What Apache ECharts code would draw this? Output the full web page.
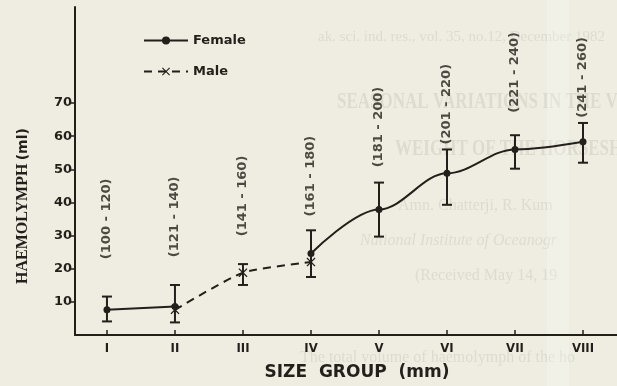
<!DOCTYPE html>
<html>
<head>
<meta charset="utf-8">
<script src="https://cdn.jsdelivr.net/npm/echarts@6/dist/echarts.min.js"></script>
<style>
  html, body { margin: 0; padding: 0; background: #efede1; }
  #chart { width: 617px; height: 386px; }
</style>
</head>
<body>
<div id="chart"></div>
<script>
// size groups (x axis) and their ranges in mm
var categories = ['I', 'II', 'III', 'IV', 'V', 'VI', 'VII', 'VIII'];
var rangeLabels = ['(100 - 120)', '(121 - 140)', '(141 - 160)', '(161 - 180)',
                   '(181 - 200)', '(201 - 220)', '(221 - 240)', '(241 - 260)'];
// value where each range label starts (bottom of the vertical text)
var rangeLabelBase = [22.9, 23.5, 29.8, 35.8, 50.6, 57.5, 67.1, 65.6];

// haemolymph (ml); null = no point for that group
var femaleValues = [7.6, 8.6, null, 24.6, 37.9, 48.8, 56.0, 58.3];
var maleValues = [null, 7.6, 18.8, 22.0, null, null, null, null];
var errLow = [4.1, 3.8, 15.1, 17.5, 29.7, 39.3, 50.2, 52.0];
var errHigh = [11.6, 15.1, 21.4, 31.6, 46.0, 56.0, 60.3, 64.0];

var yTicks = [10, 20, 30, 40, 50, 60, 70];

var ink = '#231f1b';
var xPos = categories.map(function (c, i) { return i + 1; });

function toPairs(vals) {
    return vals.map(function (v, i) { return [i + 1, v == null ? '-' : v]; });
}

// I-beam error bars
function renderErrorBar(params, api) {
    var hi = api.coord([api.value(0), api.value(2)]);
    var lo = api.coord([api.value(0), api.value(1)]);
    var cap = 5;
    var st = { stroke: ink, lineWidth: 2 };
    return {
        type: 'group',
        children: [
            { type: 'line', shape: { x1: hi[0], y1: hi[1], x2: lo[0], y2: lo[1] }, style: st },
            { type: 'line', shape: { x1: hi[0] - cap, y1: hi[1], x2: hi[0] + cap, y2: hi[1] }, style: st },
            { type: 'line', shape: { x1: lo[0] - cap, y1: lo[1], x2: lo[0] + cap, y2: lo[1] }, style: st }
        ]
    };
}

var xMark = 'path://M1,0 L5,4 L9,0 L10,1 L6,5 L10,9 L9,10 L5,6 L1,10 L0,9 L4,5 L0,1 Z';

// faint show-through from the printed page behind
var ghost = 'rgba(70,70,60,0.10)';
var ghostLines = [
    { text: 'ak. sci. ind. res., vol. 35, no.12, December 1982', left: 318, top: 30, size: 15, weight: 'normal', style: 'normal', sy: 1 },
    { text: 'SEASONAL VARIATIONS IN THE VO', left: 337, top: 90, size: 17, weight: 'bold', style: 'normal', sy: 1.4 },
    { text: 'WEIGHT OF THE HORSESHOE C', left: 395, top: 137, size: 17, weight: 'bold', style: 'normal', sy: 1.4 },
    { text: 'Amn. Chatterji, R. Kum', left: 398, top: 198, size: 16, weight: 'normal', style: 'normal', sy: 1 },
    { text: 'National Institute of Oceanogr', left: 360, top: 233, size: 16, weight: 'normal', style: 'italic', sy: 1 },
    { text: '(Received May 14, 19', left: 415, top: 268, size: 16, weight: 'normal', style: 'normal', sy: 1 },
    { text: 'The total volume of haemolymph of the ho', left: 300, top: 350, size: 16, weight: 'normal', style: 'normal', sy: 1 }
];

var graphic = ghostLines.map(function (g) {
    return {
        type: 'text', left: g.left, top: g.top, z: 0, silent: true,
        scaleY: g.sy,
        style: {
            text: g.text, fill: ghost,
            font: g.style + ' ' + g.weight + ' ' + g.size + 'px "Liberation Serif", serif'
        }
    };
});
graphic.push({
    type: 'rect', left: 547, top: 0, z: 0, silent: true,
    shape: { width: 22, height: 386 },
    style: { fill: 'rgba(255,255,255,0.22)' }
});

var dom = echarts.init(document.getElementById('chart'));
var option = {
    backgroundColor: '#efede1',
    animation: false,
    graphic: graphic,
    legend: {
        data: ['Female', 'Male'],
        orient: 'vertical',
        left: 138,
        top: 29,
        itemWidth: 44,
        itemHeight: 10,
        itemGap: 18,
        textStyle: { color: ink, fontSize: 13, fontWeight: 'bold', fontFamily: 'DejaVu Sans' }
    },
    grid: { left: 75, right: 0, top: 7, bottom: 50 },
    xAxis: {
        type: 'value',
        min: 0.53,
        max: 8.5,
        name: 'SIZE  GROUP  (mm)',
        nameLocation: 'middle',
        nameGap: 29,
        nameTextStyle: {
            color: ink, fontSize: 17, fontWeight: 'bold', fontFamily: 'DejaVu Sans',
            padding: [0, 0, 0, 22]
        },
        axisLine: { lineStyle: { color: ink, width: 2 } },
        axisTick: { inside: true, length: 5, customValues: xPos, lineStyle: { color: ink, width: 1.5 } },
        axisLabel: {
            customValues: xPos,
            margin: 7,
            color: ink, fontSize: 13, fontWeight: 'bold', fontFamily: 'DejaVu Sans Condensed',
            formatter: function (v) { return categories[Math.round(v) - 1] || ''; }
        },
        splitLine: { show: false }
    },
    yAxis: {
        type: 'value',
        min: 0,
        max: 99,
        name: '{a|HAEMOLYMPH} {b|(ml)}',
        nameLocation: 'middle',
        nameGap: 44,
        nameTextStyle: {
            padding: [0, 70, 0, 0],
            rich: {
                a: { color: ink, fontSize: 16, fontWeight: 'bold', fontFamily: 'Liberation Serif' },
                b: { color: ink, fontSize: 14, fontWeight: 'bold', fontFamily: 'DejaVu Sans' }
            }
        },
        axisLine: { show: true, lineStyle: { color: ink, width: 2 } },
        axisTick: { show: true, length: 5, customValues: yTicks, lineStyle: { color: ink, width: 1.5 } },
        axisLabel: {
            customValues: yTicks,
            margin: 3,
            color: ink, fontSize: 13, fontWeight: 'bold', fontFamily: 'DejaVu Sans'
        },
        splitLine: { show: false }
    },
    series: [
        {
            name: 'Female',
            type: 'line',
            data: toPairs(femaleValues),
            connectNulls: false,
            smooth: 0.35,
            smoothMonotone: 'x',
            symbol: 'circle',
            symbolSize: 7,
            itemStyle: { color: ink },
            lineStyle: { color: ink, width: 2 },
            z: 4
        },
        {
            name: 'Male',
            type: 'line',
            data: toPairs(maleValues),
            smooth: 0.2,
            symbol: xMark,
            symbolSize: 9,
            itemStyle: { color: ink },
            lineStyle: { color: ink, width: 2, type: [8, 6] },
            z: 4
        },
        {
            name: 'err',
            type: 'custom',
            renderItem: renderErrorBar,
            data: categories.map(function (c, i) { return [i + 1, errLow[i], errHigh[i]]; }),
            z: 3
        },
        {
            name: 'ranges',
            type: 'scatter',
            symbolSize: 1,
            itemStyle: { color: 'rgba(0,0,0,0)' },
            data: categories.map(function (c, i) { return [i + 1, rangeLabelBase[i]]; }),
            label: {
                show: true,
                position: 'inside',
                rotate: 90,
                align: 'left',
                verticalAlign: 'middle',
                color: ink,
                fontSize: 13,
                fontWeight: 'bold',
                fontFamily: 'DejaVu Sans',
                formatter: function (p) { return rangeLabels[p.dataIndex]; }
            },
            z: 5
        }
    ]
};
dom.setOption(option);
</script>
</body>
</html>
